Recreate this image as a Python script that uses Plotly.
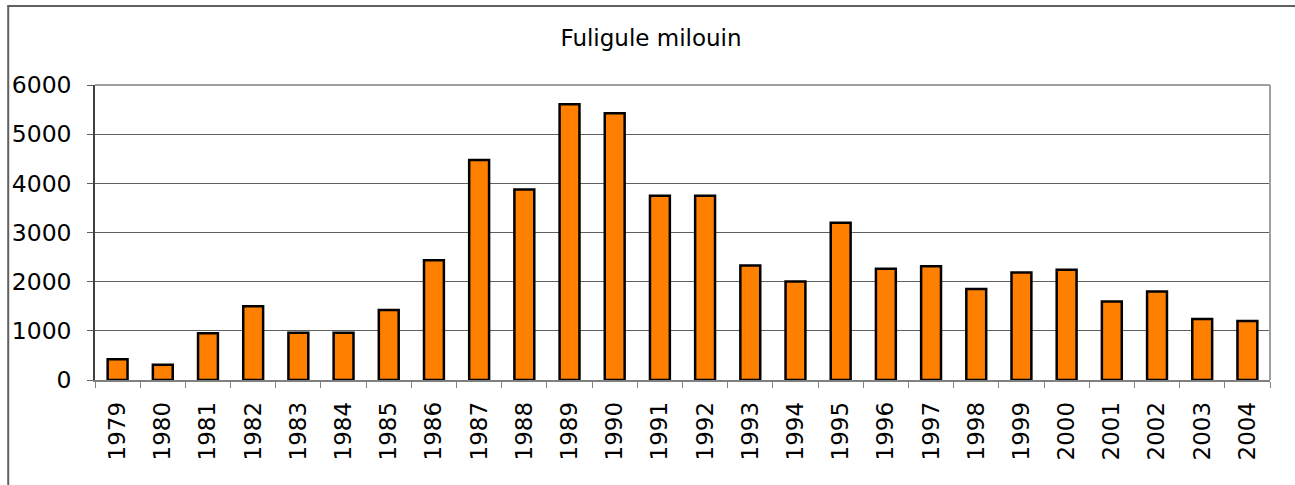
import plotly.graph_objects as go

years = [str(y) for y in range(1979, 2005)]
counts = [420, 310, 950, 1500, 962, 962, 1425, 2437, 4474, 3876, 5607, 5424,
          3750, 3750, 2329, 2003, 3198, 2261, 2315, 1853, 2186, 2240, 1595, 1799,
          1242, 1202]
title_text = "Fuligule milouin"
y_ticks = [0, 1000, 2000, 3000, 4000, 5000, 6000]

W, H = 1295, 485
L, R, T, B = 92, 25, 85, 105

fig = go.Figure(go.Bar(
    x=years, y=counts,
    marker=dict(color="#FF8000", line=dict(color="#000000", width=2.5)),
    width=0.44,
))

fig.update_layout(
    width=W, height=H,
    margin=dict(l=L, r=R, t=T, b=B, pad=0),
    paper_bgcolor="white", plot_bgcolor="white",
    font=dict(family="DejaVu Sans, Verdana, sans-serif", color="black", size=22),
    title=dict(text=title_text, x=651 / W, xanchor="center", y=1 - 38 / H,
               yanchor="middle", font=dict(size=23)),
    showlegend=False,
    bargap=0.56,
)

fig.update_xaxes(
    type="category", tickangle=-90, tickson="boundaries",
    ticks="outside", ticklen=6, tickcolor="#808080", tickwidth=1,
    showline=True, linecolor="#808080", linewidth=1.5,
    showgrid=False, tickfont=dict(size=23), ticklabelstandoff=11,
)
fig.update_yaxes(
    range=[0, 6000], tickvals=y_ticks, ticks="outside", ticklen=6,
    tickcolor="#606060", showline=True, linecolor="#404040", linewidth=1.5,
    showgrid=True, gridcolor="#606060", gridwidth=1, zeroline=False,
    tickfont=dict(size=23.5), ticklabelstandoff=11,
)

pw = W - L - R
ph = H - T - B

def px_x(p):
    return (p - L) / pw

def px_y(p):
    return (H - B - p) / ph

# plot area border (top and right, gray)
fig.add_shape(type="line", xref="paper", yref="paper", x0=0, x1=1, y0=1, y1=1,
              line=dict(color="#a0a0a0", width=2))
fig.add_shape(type="line", xref="paper", yref="paper", x0=1, x1=1, y0=0, y1=1,
              line=dict(color="#a0a0a0", width=2))
# outer chart frame (left and top edges)
fig.add_shape(type="line", xref="paper", yref="paper",
              x0=px_x(4), x1=px_x(W + 20), y0=px_y(6), y1=px_y(6),
              line=dict(color="#606060", width=2), layer="above")
fig.add_shape(type="line", xref="paper", yref="paper",
              x0=px_x(5), x1=px_x(5), y0=px_y(6), y1=px_y(H + 20),
              line=dict(color="#606060", width=2), layer="above")

fig.write_html(
    "out.html",
    config={"displayModeBar": False},
    post_script="document.body.style.margin='0';document.body.style.overflow='hidden';",
)
